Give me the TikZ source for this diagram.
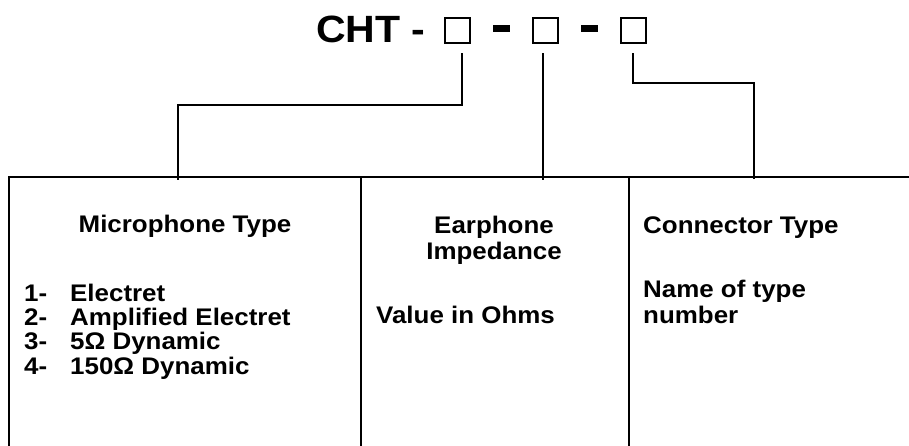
\documentclass[tikz,border=0pt]{standalone}
\usepackage{fontspec}
\newfontfamily\bodyfont{Liberation Sans}[FakeStretch=1.08]
\newfontfamily\titlefont{Liberation Sans}[FakeStretch=1.08]
\begin{document}
\begin{tikzpicture}[
		x=1pt, y=-1pt,
		label/.style = {anchor=base west, inner sep=0pt, font=\bodyfont\bfseries\fontsize{24}{27}\selectfont},
		heading/.style = {label, anchor=base},
		slot/.style = {draw, line width=2pt, minimum size=25pt, inner sep=0pt},
		bar/.style = {fill, minimum width=17pt, minimum height=7pt, inner sep=0pt},
		lead/.style = {line width=1.2pt},
	]
	\path[use as bounding box] (0,0) rectangle (909,445);
	% code line
	\node[anchor=base west, inner sep=0pt, font=\titlefont\bfseries\fontsize{38}{40}\selectfont] (cht) at (316,42) {CHT -};
	\node[slot] (mic) at (457.5,30) {};
	\node[bar] (dash1) at (501.5,28.5) {};
	\node[slot] (ear) at (545,30) {};
	\node[bar] (dash2) at (589.5,28.5) {};
	\node[slot] (con) at (633,30) {};
	% table
	\draw[line width=2pt] (9,447) -- (9,177) -- (909,177);
	\draw[line width=2pt] (361,177) -- (361,447) (629,177) -- (629,447);
	\coordinate (tmic) at (178,180);
	\coordinate (tear) at (543,180);
	\coordinate (tcon) at (754,179);
	% leads
	\draw[lead] ([xshift=4.5pt, yshift=-9.5pt]mic.south) -- ++(0,52) -| (tmic);
	\draw[lead] ([xshift=-2pt, yshift=-9.5pt]ear.south) -- (tear);
	\draw[lead] ([yshift=-9.5pt]con.south) -- ++(0,30) -| (tcon);
	% microphone column
	\node[heading] (micname) at (185,232) {Microphone Type};
	\foreach \n/\t [count=\i] in {1/Electret, 2/Amplified Electret, 3/5Ω Dynamic, 4/150Ω Dynamic}{
		\node[label] (num\i) at (24,{301+(\i-1)*24.4}) {\n-};
		\node[label] (item\i) at (70,{301+(\i-1)*24.4}) {\t};
	}
	% earphone column
	\node[heading] (earname) at (494,233) {Earphone};
	\node[heading] (earname2) at (494,259) {Impedance};
	\node[label] (earval) at (376,323) {Value in Ohms};
	% connector column
	\node[label] (conname) at (643,233) {Connector Type};
	\node[label] (conval) at (643,297) {Name of type};
	\node[label] (conval2) at (643,323) {number};
\end{tikzpicture}
\end{document}
